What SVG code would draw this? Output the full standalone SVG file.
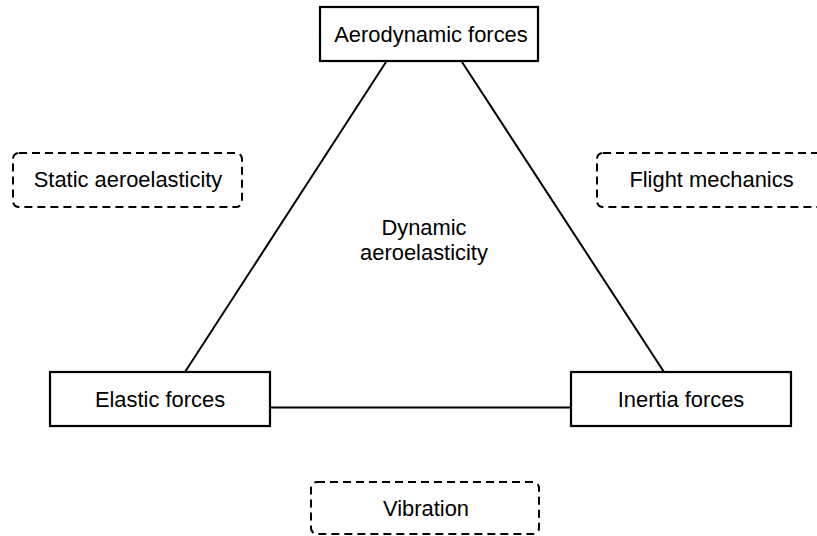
<svg xmlns="http://www.w3.org/2000/svg" width="817" height="536" viewBox="0 0 817 536">
<style>
.box{fill:#fff;stroke:#000;stroke-width:2.2}
.dash{fill:#fff;stroke:#000;stroke-width:2;stroke-dasharray:8 5}
.lbl{font-family:"Liberation Sans",Arial,sans-serif;font-size:21.9px;fill:#000;text-anchor:middle}
.edge{stroke:#000;stroke-width:2;fill:none}
</style>
<rect width="817" height="536" fill="#fff"/>
<g id="connectors">
<line class="edge" x1="386" y1="62" x2="185" y2="372"/>
<line class="edge" x1="462" y1="62" x2="664" y2="372"/>
<line class="edge" x1="270" y1="407.5" x2="571" y2="407.5"/>
</g>
<g id="aerodynamic">
<rect class="box" x="320" y="7" width="218" height="54"/>
<text class="lbl" x="431" y="42">Aerodynamic forces</text>
</g>
<g id="static">
<rect class="dash" x="13" y="153" width="229" height="54" rx="6"/>
<text class="lbl" x="128" y="187">Static aeroelasticity</text>
</g>
<g id="flight">
<rect class="dash" x="597" y="153" width="229" height="54" rx="6"/>
<text class="lbl" x="711.5" y="187">Flight mechanics</text>
</g>
<g id="dynamic">
<text class="lbl" x="424" y="235">Dynamic</text>
<text class="lbl" x="424" y="260">aeroelasticity</text>
</g>
<g id="elastic">
<rect class="box" x="50" y="372" width="220" height="54"/>
<text class="lbl" x="160" y="407">Elastic forces</text>
</g>
<g id="inertia">
<rect class="box" x="571" y="372" width="220" height="54"/>
<text class="lbl" x="681" y="407">Inertia forces</text>
</g>
<g id="vibration">
<rect class="dash" x="311" y="482" width="228" height="52" rx="6"/>
<text class="lbl" x="426" y="516">Vibration</text>
</g>
</svg>
